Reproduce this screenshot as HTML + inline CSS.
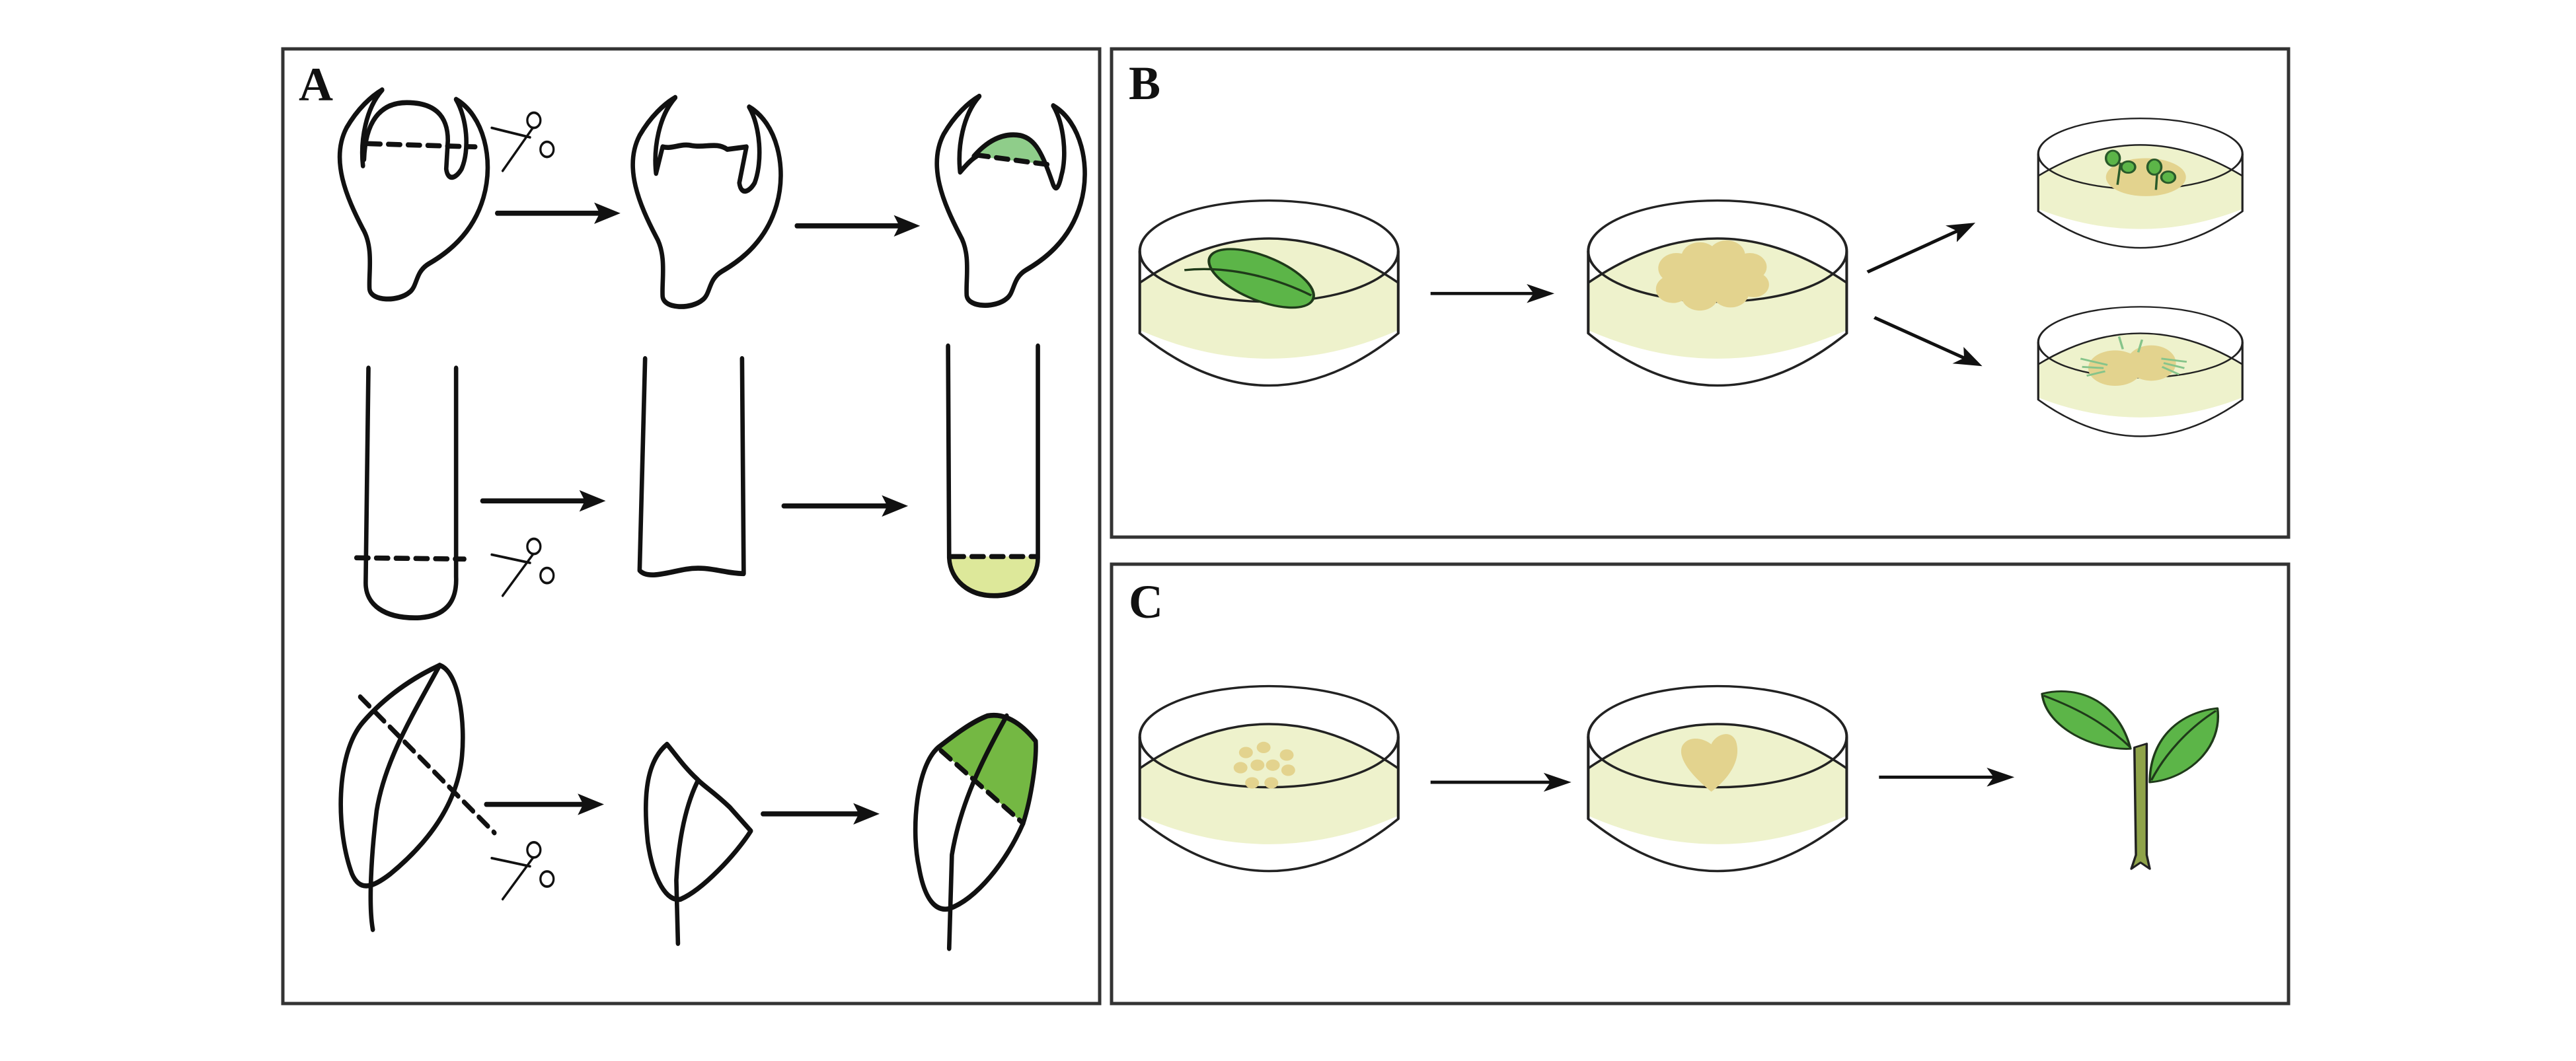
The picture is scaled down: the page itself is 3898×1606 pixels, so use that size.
<!DOCTYPE html>
<html><head><meta charset="utf-8"><style>
html,body{margin:0;padding:0;background:#fff;}
svg{display:block;}
</style></head><body>
<svg width="3898" height="1606" viewBox="0 0 3898 1606" xmlns="http://www.w3.org/2000/svg">
<defs>
<marker id="ah" viewBox="0 0 12 10" refX="10" refY="5" markerWidth="48" markerHeight="30" orient="auto" markerUnits="userSpaceOnUse">
<path d="M0,0 L12,5 L0,10 L3,5 Z" fill="#111"/>
</marker>
</defs>
<rect width="3898" height="1606" fill="#fff"/>
<rect x="428" y="74" width="1236" height="1445" fill="none" stroke="#333" stroke-width="5"/>
<rect x="1682" y="74" width="1781" height="739" fill="none" stroke="#333" stroke-width="5"/>
<rect x="1682" y="854" width="1781" height="665" fill="none" stroke="#333" stroke-width="5"/>
<text x="452" y="152" font-family="Liberation Serif, serif" font-weight="bold" font-size="72" fill="#111">A</text>
<text x="1708" y="150" font-family="Liberation Serif, serif" font-weight="bold" font-size="72" fill="#111">B</text>
<text x="1708" y="935" font-family="Liberation Serif, serif" font-weight="bold" font-size="72" fill="#111">C</text>

<g transform="translate(400,50) scale(0.829,0.957)" fill="none" stroke="#111" stroke-width="8" stroke-linecap="round" stroke-linejoin="round">
  <path d="M215,90 C185,120 175,170 180,210"/>
  <path d="M182,200 C185,130 220,110 260,110 C310,110 335,130 335,170 L332,215 C335,235 350,230 360,215 C375,185 370,135 350,105"/>
  <path d="M350,105 C400,130 420,200 400,260 C380,320 330,350 300,365 C275,378 280,400 265,410 C245,425 195,425 192,405 C190,380 200,340 180,310 C150,260 120,200 150,150 C170,120 195,100 215,90"/>
  <path d="M190,175 L385,180" stroke-dasharray="22,14"/>
  <g stroke-width="4"><path d="M415,150 L485,165 M435,218 L490,150"/><circle cx="492" cy="138" r="12"/><circle cx="516" cy="184" r="12"/></g>
  <g transform="translate(535,12)">
    <path d="M215,90 C185,120 175,170 180,210 L192,168 C210,172 225,162 245,166 C270,170 290,160 310,172 L345,168 L332,225 C335,245 350,240 360,225 C375,190 370,135 350,105"/>
    <path d="M350,105 C400,130 420,200 400,260 C380,320 330,350 300,365 C275,378 280,400 265,410 C245,425 195,425 192,405 C190,380 200,340 180,310 C150,260 120,200 150,150 C170,120 195,100 215,90"/>
  </g>
  <g transform="translate(1090,10)">
    <path d="M210,185 C235,155 260,150 285,152 C315,155 330,175 340,198 Z" fill="#8fcd8a" stroke="none"/>
    <path d="M215,90 C185,120 175,170 180,210 C190,200 200,190 210,185"/>
    <path d="M205,185 C235,155 265,148 290,152 C318,158 330,180 350,230 C355,240 360,235 365,215 C375,185 370,135 350,105"/>
    <path d="M210,183 L340,198" stroke-dasharray="22,14"/>
    <path d="M350,105 C400,130 420,200 400,260 C380,320 330,350 300,365 C275,378 280,400 265,410 C245,425 195,425 192,405 C190,380 200,340 180,310 C150,260 120,200 150,150 C170,120 195,100 215,90"/>
  </g>
  <path d="M425,285 L615,285"/><path d="M650,285 L602,268 L612,285 L602,302 Z" fill="#111" stroke="none"/>
  <path d="M972,305 L1162,305"/><path d="M1197,305 L1149,288 L1159,305 L1149,322 Z" fill="#111" stroke="none"/>

  <path d="M190,530 L185,870 C185,905 220,925 275,925 C330,925 352,900 350,860 L350,530"/>
  <path d="M168,830 L365,832" stroke-dasharray="22,14"/>
  <g stroke-width="4"><path d="M415,825 L485,838 M435,890 L490,825"/><circle cx="492" cy="812" r="12"/><circle cx="516" cy="858" r="12"/></g>
  <path d="M695,515 L685,850 C700,865 740,852 770,848 C810,842 840,855 875,855 L872,515"/>
  <path d="M1250,828 L1412,828 C1412,865 1380,890 1332,890 C1285,890 1252,865 1250,828 Z" fill="#dde89a" stroke="none"/>
  <path d="M1248,495 L1250,830 C1252,865 1285,890 1332,890 C1380,890 1412,865 1412,830 L1412,495"/>
  <path d="M1255,828 L1410,828" stroke-dasharray="22,14"/>
  <path d="M398,740 L588,740"/><path d="M623,740 L575,723 L585,740 L575,757 Z" fill="#111" stroke="none"/>
  <path d="M948,748 L1140,748"/><path d="M1175,748 L1127,731 L1137,748 L1127,765 Z" fill="#111" stroke="none"/>

  <path d="M320,1000 C270,1020 220,1050 180,1090 C130,1140 130,1260 160,1330 C175,1360 200,1350 230,1330 C300,1280 350,1220 360,1150 C368,1090 355,1010 320,1000 Z"/>
  <path d="M320,1000 C270,1080 220,1150 205,1230 C195,1300 190,1380 198,1418"/>
  <path d="M175,1050 L420,1265" stroke-dasharray="22,14"/>
  <g stroke-width="4"><path d="M415,1305 L485,1318 M435,1370 L490,1305"/><circle cx="492" cy="1292" r="12"/><circle cx="516" cy="1338" r="12"/></g>
  <path d="M735,1125 C700,1150 690,1200 700,1280 C710,1340 735,1375 760,1370 C800,1355 860,1300 888,1262 L850,1225 C820,1200 800,1190 790,1180 C765,1160 750,1140 735,1125 Z"/>
  <path d="M790,1185 C765,1230 755,1290 752,1340 L755,1440"/>
  <path d="M1232,1132 C1262,1110 1292,1090 1322,1080 C1352,1075 1382,1090 1408,1120 C1410,1160 1400,1210 1385,1250 Z" fill="#74b843" stroke="none"/>
  <path d="M1230,1130 C1190,1160 1180,1260 1195,1320 C1205,1370 1225,1390 1250,1385 C1300,1370 1355,1310 1385,1250 C1400,1210 1410,1150 1408,1120 C1380,1090 1350,1075 1320,1080 C1290,1090 1260,1110 1230,1130 Z"/>
  <path d="M1355,1080 C1310,1150 1270,1220 1255,1300 L1250,1448"/>
  <path d="M1235,1135 L1385,1250" stroke-dasharray="22,14"/>
  <path d="M405,1220 L585,1220"/><path d="M620,1220 L572,1203 L582,1220 L572,1237 Z" fill="#111" stroke="none"/>
  <path d="M910,1235 L1088,1235"/><path d="M1123,1235 L1075,1218 L1085,1235 L1075,1252 Z" fill="#111" stroke="none"/>
</g>

<g transform="translate(1670,50) scale(1.164,0.957)" fill="none" stroke="#222" stroke-width="3.5" stroke-linejoin="round">
  <g id="dish">
    <path d="M47,395 Q215,255 383,395 L383,470 Q215,560 47,470 Z" fill="#eef2cc" stroke="none"/>
    <ellipse cx="215" cy="345" rx="168" ry="80"/>
    <path d="M47,345 L47,475 Q215,640 383,475 L383,345"/>
    <path d="M47,395 Q215,255 383,395"/>
  </g>
  <ellipse cx="205" cy="388" rx="75" ry="34" transform="rotate(28 205 388)" fill="#5cb548" stroke="#1f3a1a"/>
  <path d="M105,375 C160,368 220,385 270,415" stroke="#1f3a1a"/>

  <use href="#dish" transform="translate(583,0)"/>
  <g fill="#e3d38e" stroke="none">
    <circle cx="745" cy="372" r="24"/><circle cx="775" cy="355" r="24"/><circle cx="810" cy="352" r="24"/><circle cx="840" cy="370" r="22"/>
    <circle cx="740" cy="405" r="22"/><circle cx="775" cy="415" r="24"/><circle cx="815" cy="410" r="24"/><circle cx="845" cy="398" r="20"/>
    <rect x="745" y="360" width="95" height="50"/>
  </g>

  <g transform="translate(1215,135) scale(0.79,0.7)"><use href="#dish" transform="translate(-47,-265)"/></g>
  <g fill="#e3d38e" stroke="none"><ellipse cx="1355" cy="228" rx="52" ry="30"/></g>
  <g stroke="#2a5a2a" stroke-width="3">
    <path d="M1318,240 L1322,205"/><ellipse cx="1312" cy="198" rx="9" ry="12" fill="#5cb548"/><ellipse cx="1332" cy="212" rx="9" ry="9" fill="#5cb548"/>
    <path d="M1368,248 L1370,215"/><ellipse cx="1366" cy="212" rx="9" ry="12" fill="#5cb548"/><ellipse cx="1384" cy="228" rx="9" ry="9" fill="#5cb548"/>
  </g>
  <g transform="translate(1215,433) scale(0.79,0.7)"><use href="#dish" transform="translate(-47,-265)"/></g>
  <g fill="#e3d38e" stroke="none"><ellipse cx="1315" cy="530" rx="35" ry="28"/><ellipse cx="1362" cy="522" rx="32" ry="28"/></g>
  <g stroke="#86c48a" stroke-width="3">
    <path d="M1305,525 L1270,515 M1300,530 L1272,528 M1302,535 L1278,542"/>
    <path d="M1375,515 L1408,520 M1378,522 L1405,530 M1376,528 L1398,540"/>
    <path d="M1325,500 L1320,480 M1345,505 L1350,485"/>
  </g>

  <g stroke="#111" stroke-width="5">
    <path d="M425,412 L580,412" marker-end="url(#ah)"/>
    <path d="M993,378 L1128,303" marker-end="url(#ah)"/>
    <path d="M1002,450 L1137,524" marker-end="url(#ah)"/>
  </g>

  <use href="#dish" transform="translate(0,768)"/>
  <g fill="#e3d38e" stroke="none">
    <circle cx="185" cy="1138" r="9"/><circle cx="208" cy="1130" r="9"/><circle cx="238" cy="1142" r="9"/>
    <circle cx="178" cy="1162" r="9"/><circle cx="200" cy="1158" r="9"/><circle cx="220" cy="1158" r="9"/><circle cx="240" cy="1166" r="9"/>
    <circle cx="193" cy="1186" r="9"/><circle cx="218" cy="1186" r="9"/>
  </g>
  <use href="#dish" transform="translate(583,768)"/>
  <path d="M790,1200 C770,1180 745,1150 752,1128 C760,1110 780,1115 790,1125 C795,1110 815,1100 822,1120 C830,1150 812,1180 790,1200 Z" fill="#e3d38e" stroke="none"/>
  <g stroke="#111" stroke-width="5">
    <path d="M425,1185 L602,1185" marker-end="url(#ah)"/>
    <path d="M1008,1177 L1178,1177" marker-end="url(#ah)"/>
  </g>
  <path d="M1340,1130 L1356,1124 L1356,1300 L1360,1322 L1348,1312 L1336,1322 L1342,1300 Z" fill="#8fa34a" stroke="#222" stroke-width="3"/>
  <path d="M1220,1045 C1270,1030 1320,1060 1335,1132 C1290,1135 1225,1100 1220,1045 Z" fill="#5cb548" stroke="#1f3a1a" stroke-width="3"/>
  <path d="M1222,1048 C1270,1070 1305,1095 1335,1130" stroke="#1f3a1a" stroke-width="3"/>
  <path d="M1448,1068 C1455,1130 1410,1180 1360,1185 C1360,1120 1395,1075 1448,1068 Z" fill="#5cb548" stroke="#1f3a1a" stroke-width="3"/>
  <path d="M1446,1072 C1410,1100 1380,1140 1362,1182" stroke="#1f3a1a" stroke-width="3"/>
</g>
</svg>
</body></html>
